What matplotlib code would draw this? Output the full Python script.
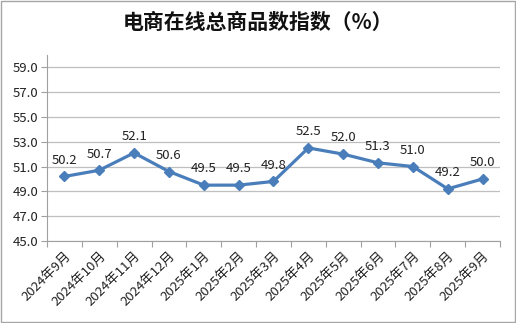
import matplotlib.pyplot as plt
from matplotlib.patches import Rectangle

plt.rcParams['font.family'] = ['Noto Sans CJK SC', 'DejaVu Sans']

months = ['2024年9月', '2024年10月', '2024年11月', '2024年12月', '2025年1月',
          '2025年2月', '2025年3月', '2025年4月', '2025年5月', '2025年6月',
          '2025年7月', '2025年8月', '2025年9月']
index_values = [50.2, 50.7, 52.1, 50.6, 49.5, 49.5, 49.8, 52.5, 52.0, 51.3, 51.0, 49.2, 50.0]
y_ticks = [45, 47, 49, 51, 53, 55, 57, 59]

fig = plt.figure(figsize=(5.16, 3.23), dpi=100)
ax = fig.add_axes([0.091, 0.254, 0.878, 0.576])

x = list(range(len(months)))
ax.plot(x, index_values, color='#4A7EBB', lw=2.3, marker='D', ms=5.5, zorder=3)
for xi, v in zip(x, index_values):
    ax.annotate(f'{v:.1f}', (xi, v), xytext=(0, 7), textcoords='offset points',
                ha='center', va='bottom', fontsize=9.5, color='#222222')

ax.set_xlim(-0.5, len(months) - 0.5)
ax.set_ylim(45, 60)
ax.set_yticks(y_ticks)
ax.set_yticklabels([f'{t:.1f}' for t in y_ticks], fontsize=9.5, color='#222222')
ax.yaxis.grid(True, color='#BFBFBF', lw=0.9)
ax.set_axisbelow(True)

# category boundaries carry the tick marks
ax.set_xticks([i - 0.5 for i in range(len(months) + 1)])
ax.set_xticklabels([])
ax.set_xticks(x, minor=True)
ax.set_xticklabels(months, minor=True, rotation=45, ha='right',
                   rotation_mode='anchor', fontsize=9.5, color='#222222')
ax.tick_params(axis='x', which='minor', length=0, pad=6)
ax.tick_params(axis='x', which='major', length=4, color='#A0A0A0')
ax.tick_params(axis='y', length=4, color='#A0A0A0', pad=2)

for side in ['top', 'right']:
    ax.spines[side].set_visible(False)
for side in ['left', 'bottom']:
    ax.spines[side].set_color('#A0A0A0')

fig.text(0.5, 0.93, '电商在线总商品数指数（%）', ha='center', va='center',
         fontsize=15, fontweight='bold', color='#111111')

fig.patches.append(Rectangle((0.002, 0.003), 0.996, 0.994, transform=fig.transFigure,
                             fill=False, edgecolor='#A6A6A6', lw=1))

fig.savefig('out.png', dpi=100)
